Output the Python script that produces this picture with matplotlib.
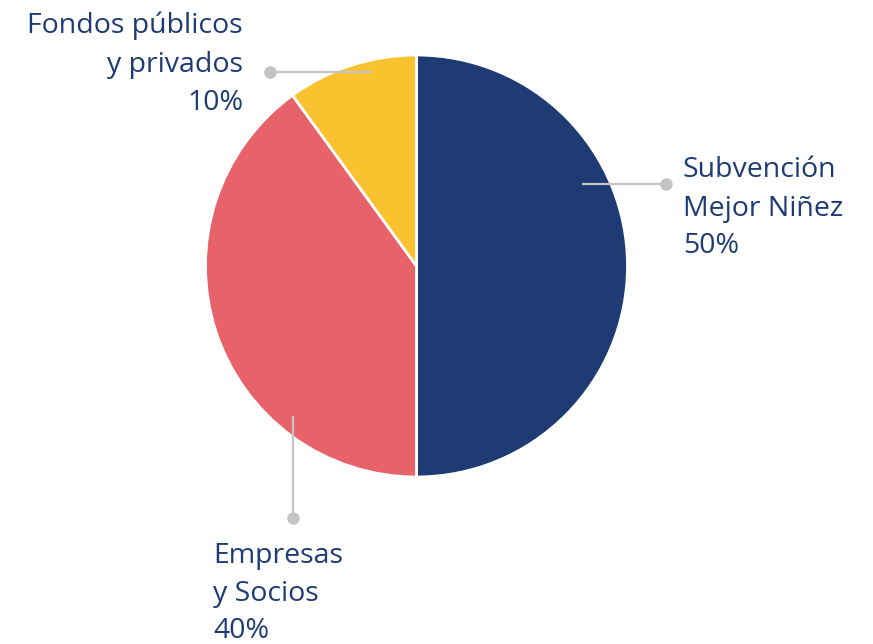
import matplotlib
matplotlib.use("Agg")
import matplotlib.pyplot as plt

# data
labels = ["Subvención\nMejor Niñez", "Empresas\ny Socios", "Fondos públicos\ny privados"]
shares = [50, 40, 10]
colors = ["#1e3b74", "#e8626a", "#f9c22e"]

W, H = 873, 644
TEXT = "#1e3b74"
LEAD = "#c4c4c4"

plt.rcParams['font.family'] = ['Open Sans', 'DejaVu Sans']

fig = plt.figure(figsize=(W / 100, H / 100), dpi=100)
ax = fig.add_axes([0, 0, 1, 1])

def py(y):
    # pixel row from the top -> data y
    return H - y

ax.pie(shares, colors=colors, startangle=90, counterclock=False,
       center=(416.5, py(266)), radius=211, frame=True,
       wedgeprops=dict(edgecolor="white", linewidth=2))
ax.set_xlim(0, W)
ax.set_ylim(0, H)
ax.set_aspect("equal")
ax.axis("off")

# leader lines: (x0, y0) inside slice -> (x1, y1) dot
leaders = [((582, 184), (666, 184)),
           ((292.5, 416), (292.5, 518)),
           ((372, 72), (270, 72))]
for (x0, y0), (x1, y1) in leaders:
    ax.plot([x0, x1], [py(y0), py(y1)], color=LEAD, lw=1.6, solid_capstyle="butt", zorder=5)
    ax.plot([x1], [py(y1)], "o", color=LEAD, ms=8, zorder=6)

# label blocks: text lines, x, baselines, alignment
blocks = [
    (labels[0].split("\n") + [f"{shares[0]}%"], 683, [177, 216, 253], "left"),
    (labels[1].split("\n") + [f"{shares[1]}%"], 213, [563, 601, 638], "left"),
    (labels[2].split("\n") + [f"{shares[2]}%"], 243, [33, 72, 110], "right"),
]
for lines, x, ys, ha in blocks:
    for line, y in zip(lines, ys):
        ax.text(x, py(y), line, ha=ha, va="baseline", fontsize=20.5,
                color=TEXT)

fig.savefig("out.png", dpi=100)
